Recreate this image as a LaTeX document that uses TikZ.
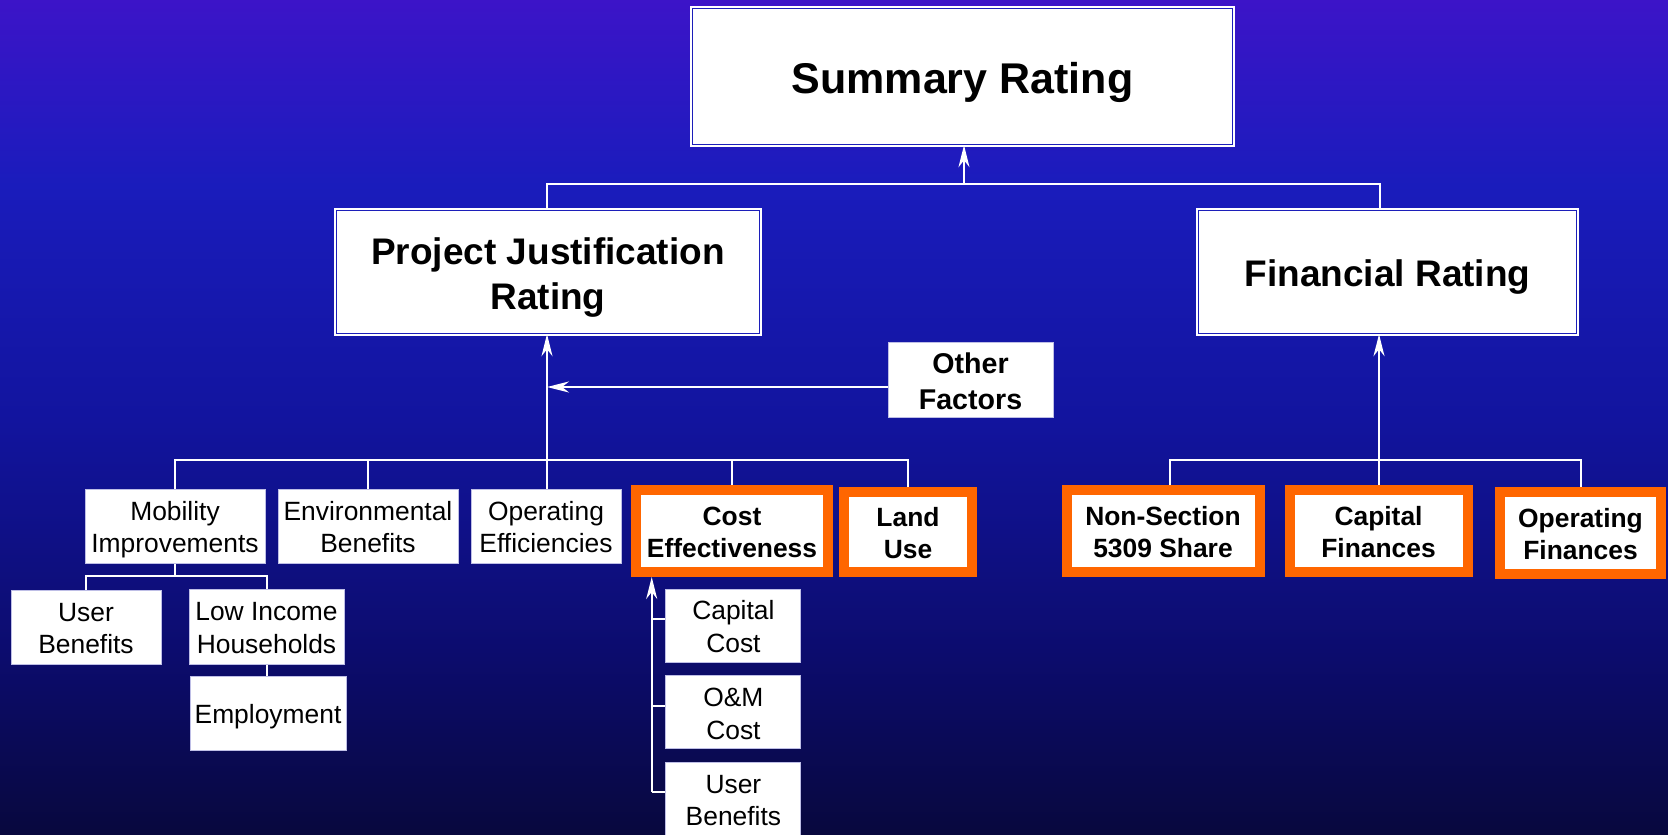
\documentclass[tikz,border=0pt]{standalone}
\usepackage{fontspec}
\setmainfont{Liberation Sans}
\usetikzlibrary{arrows.meta}

% background ramp, violet at the top to deep navy at the bottom
\definecolor{bgT}{RGB}{60,20,200}
\definecolor{bgB}{RGB}{26,28,188}
\definecolor{bgM}{RGB}{18,20,158}
\definecolor{bgL}{RGB}{12,12,110}
\definecolor{bgD}{RGB}{8,8,62}
\definecolor{dgap}{RGB}{28,30,185}
\definecolor{orng}{RGB}{255,102,0}
\definecolor{edgec}{RGB}{190,190,230}

\pgfdeclareverticalshading{bgshade}{100bp}{color(0bp)=(bgD); color(25bp)=(bgD); color(36bp)=(bgL); color(49.8bp)=(bgM); color(63.9bp)=(bgB); color(75bp)=(bgT); color(100bp)=(bgT)}

% centred block of lines, lowered a little inside its box
\newcommand\boxtext[2][2.1pt]{\raisebox{-#1}[\height][\depth]{\begin{tabular}{@{}c@{}}#2\end{tabular}}}

\tikzset{
  dbl/.style={draw=white, line width=0.7pt, double=dgap, double distance=0.9pt,
              fill=white, inner sep=0pt},
  plain/.style={draw=edgec, line width=0.5pt, fill=white, inner sep=0pt,
                font=\fontsize{13.2}{16.2}\selectfont},
  hot/.style={draw=orng, line width=5pt, fill=white, inner sep=0pt,
              font=\bfseries\fontsize{13.2}{16.2}\selectfont},
  ln/.style={draw=white, line width=1pt},
  arr/.style={ln, -{Stealth[length=11pt,width=5.5pt,inset=3.5pt]}},
}

\begin{document}
\begin{tikzpicture}[x=0.5pt,y=-0.5pt]
\useasboundingbox (0,0) rectangle (1668,834);
\clip (0,0) rectangle (1668,834);
\shade[shading=bgshade] (0,0) rectangle (1668,834);

% top level
\node[dbl, minimum width=270pt, minimum height=68pt,
      font=\bfseries\fontsize{21.5}{25}\selectfont] (sum) at (962.5,76.5) {\boxtext[3.4pt]{Summary Rating}};

% second level
\node[dbl, minimum width=211.5pt, minimum height=61.5pt,
      font=\bfseries\fontsize{18.5}{22.5}\selectfont] (pj) at (548,272) {\boxtext[2.8pt]{Project Justification\\Rating}};
\node[dbl, minimum width=189pt, minimum height=61.5pt,
      font=\bfseries\fontsize{18.5}{22.5}\selectfont] (fr) at (1387.5,272) {\boxtext[2.7pt]{Financial Rating}};

\node[plain, minimum width=82.5pt, minimum height=37.25pt,
      font=\bfseries\fontsize{14.3}{18}\selectfont] (of) at (970.5,380) {\boxtext[2pt]{Other\\Factors}};

% project justification criteria
\node[plain, minimum width=90pt, minimum height=37pt] (mob) at (175,526) {\boxtext{Mobility\\Improvements}};
\node[plain, minimum width=90pt, minimum height=37pt] (env) at (368,526) {\boxtext{Environmental\\Benefits}};
\node[plain, minimum width=75pt, minimum height=37pt] (ope) at (546,526) {\boxtext{Operating\\Efficiencies}};
\node[hot, minimum width=96pt, minimum height=41pt] (ce) at (732,531) {\boxtext{Cost\\Effectiveness}};
\node[hot, minimum width=64pt, minimum height=39.75pt] (lu) at (908,532) {\boxtext{Land\\Use}};

% financial criteria
\node[hot, minimum width=96.5pt, minimum height=41pt] (ns) at (1163,531) {\boxtext{Non-Section\\5309 Share}};
\node[hot, minimum width=89pt, minimum height=41pt] (cf) at (1378.5,531) {\boxtext{Capital\\Finances}};
\node[hot, minimum width=80.5pt, minimum height=41pt] (opf) at (1580.5,533) {\boxtext{Operating\\Finances}};

% mobility sub-measures
\node[plain, minimum width=75pt, minimum height=37pt] (ub1) at (86,627) {\boxtext{User\\Benefits}};
\node[plain, minimum width=77.5pt, minimum height=37.5pt] (li) at (266.5,626.5) {\boxtext{Low Income\\Households}};
\node[plain, minimum width=78pt, minimum height=37pt] (emp) at (268,713) {\boxtext{Employment}};

% cost effectiveness sub-measures
\node[plain, minimum width=67.5pt, minimum height=36.5pt] (cap) at (733.4,625.5) {\boxtext{Capital\\Cost}};
\node[plain, minimum width=67.5pt, minimum height=36.5pt] (om) at (733.4,712.4) {\boxtext{O\&M\\Cost}};
\node[plain, minimum width=67.5pt, minimum height=37pt] (ub2) at (733.4,799) {\boxtext{User\\Benefits}};

% junction points
\coordinate (sb) at (964,184);
\coordinate (frx) at (1380,184);
\coordinate (pb) at (547,460);
\coordinate (ofa) at (547,387);
\coordinate (mj) at (175,576);
\coordinate (cev) at (651.7,792);
\coordinate (c1) at (651.7,619);
\coordinate (c2) at (651.7,706);
\coordinate (fb) at (1379,460);
\coordinate (nsx) at (1170,460);

% summary level
\draw[ln] (pj.north -| pb) |- (sb) -| (fr.north -| frx);
\draw[arr] (sb) -- (sum.south -| sb);

% project justification tree
\draw[arr] (pb) -- (pj.south -| pb);
\draw[arr] (of.west |- ofa) -- (ofa);
\draw[ln] (mob.north) |- (lu.north |- pb) -- (lu.north);
\draw[ln] (env.north) -- (env.north |- pb);
\draw[ln] (ope.north -| pb) -- (pb);
\draw[ln] (ce.north) -- (ce.north |- pb);

% mobility branch
\draw[ln] (mob.south) -- (mj);
\draw[ln] (ub1.north) |- (mj) -| (li.north);
\draw[ln] (li.south) -- (emp.north -| li.south);

% cost effectiveness branch
\draw[arr] (cev) -- (ce.south -| cev);
\draw[ln] (cev) -- (ub2.west |- cev);
\draw[ln] (c1) -- (cap.west |- c1);
\draw[ln] (c2) -- (om.west |- c2);

% financial tree
\draw[ln] (ns.north -| nsx) -- (nsx) -- (fb) -| (opf.north);
\draw[ln] (cf.north -| fb) -- (fb);
\draw[arr] (fb) -- (fr.south -| fb);
\end{tikzpicture}
\end{document}
